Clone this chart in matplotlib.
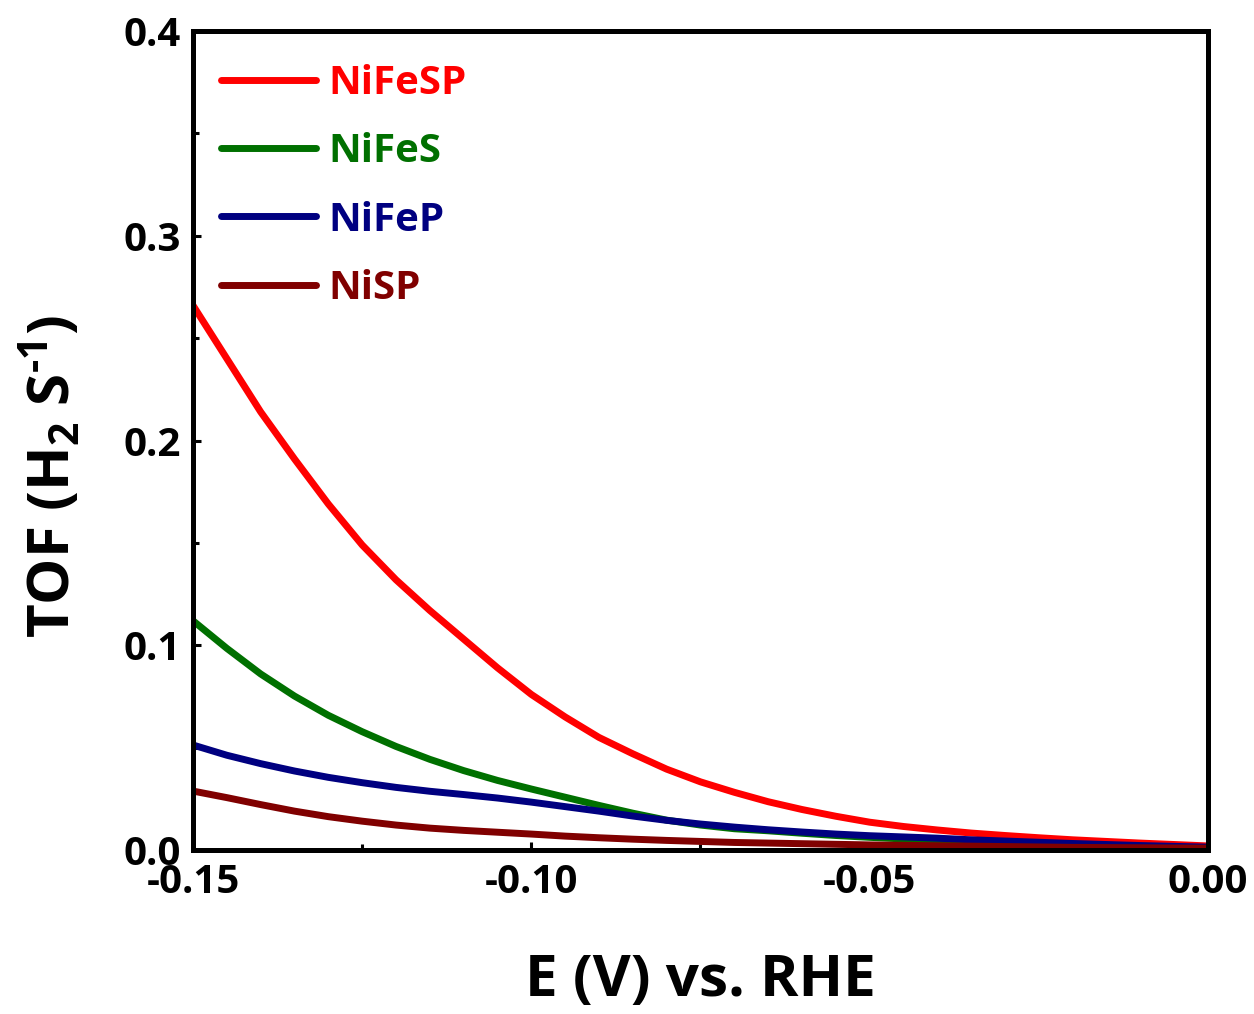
import matplotlib
matplotlib.use('Agg')
import matplotlib.pyplot as plt
from matplotlib.ticker import MultipleLocator, FormatStrFormatter

plt.rcParams['font.family'] = 'Open Sans'
plt.rcParams['font.weight'] = 'bold'
plt.rcParams['axes.labelweight'] = 'bold'
plt.rcParams['axes.unicode_minus'] = False
plt.rcParams['mathtext.fontset'] = 'custom'
plt.rcParams['mathtext.rm'] = 'Open Sans:bold'
plt.rcParams['mathtext.default'] = 'rm'

# potential (V vs. RHE)
E = [-0.150, -0.145, -0.140, -0.135, -0.130, -0.125, -0.120, -0.115, -0.110, -0.105,
     -0.100, -0.095, -0.090, -0.085, -0.080, -0.075, -0.070, -0.065, -0.060, -0.055,
     -0.050, -0.045, -0.040, -0.035, -0.030, -0.025, -0.020, -0.015, -0.010, -0.005, 0.000]

# turnover frequency, H2 per second
tof_nifesp = [0.266, 0.240, 0.214, 0.191, 0.169, 0.149, 0.132, 0.117, 0.103, 0.089,
              0.076, 0.065, 0.055, 0.047, 0.0395, 0.0333, 0.0282, 0.0236, 0.0198, 0.0165,
              0.0136, 0.0115, 0.0098, 0.0083, 0.0071, 0.006, 0.005, 0.0042, 0.0034, 0.0027, 0.002]
tof_nifes = [0.112, 0.0985, 0.086, 0.0752, 0.0658, 0.0578, 0.0506, 0.0443, 0.0388, 0.034,
             0.0298, 0.0258, 0.0218, 0.018, 0.0146, 0.0122, 0.0104, 0.0094, 0.0082, 0.0071,
             0.0062, 0.0054, 0.0047, 0.004, 0.0034, 0.0029, 0.0024, 0.002, 0.0016, 0.0013, 0.001]
tof_nifep = [0.0513, 0.0463, 0.0422, 0.0386, 0.0355, 0.0329, 0.0306, 0.0287, 0.0271, 0.0254,
             0.0234, 0.0212, 0.019, 0.0166, 0.0145, 0.0127, 0.0112, 0.0099, 0.0088, 0.0078,
             0.007, 0.0064, 0.0058, 0.005, 0.0044, 0.0038, 0.0032, 0.0027, 0.0022, 0.0018, 0.0014]
tof_nisp = [0.0288, 0.0256, 0.0222, 0.019, 0.0163, 0.0141, 0.0122, 0.0107, 0.0096, 0.0087,
            0.0078, 0.0068, 0.006, 0.0053, 0.0047, 0.0042, 0.0037, 0.0034, 0.0031, 0.0028,
            0.0025, 0.0023, 0.0021, 0.0019, 0.0017, 0.0015, 0.0013, 0.0012, 0.0011, 0.001, 0.0009]

series = [
    ('NiFeSP', tof_nifesp, '#FF0000'),
    ('NiFeS', tof_nifes, '#007000'),
    ('NiFeP', tof_nifep, '#000080'),
    ('NiSP', tof_nisp, '#800000'),
]

fig = plt.figure(figsize=(12.54, 10.14), dpi=100)
ax = fig.add_axes([0.1539, 0.1617, 0.8094, 0.8077])

for label, y, color in series:
    ax.plot(E, y, color=color, lw=5, label=label,
            solid_capstyle='round', solid_joinstyle='round')

ax.set_xlim(-0.15, 0.0)
ax.set_ylim(0.0, 0.4)
ax.xaxis.set_major_locator(MultipleLocator(0.05))
ax.xaxis.set_minor_locator(MultipleLocator(0.025))
ax.yaxis.set_major_locator(MultipleLocator(0.1))
ax.yaxis.set_minor_locator(MultipleLocator(0.05))
ax.xaxis.set_major_formatter(FormatStrFormatter('%.2f'))
ax.yaxis.set_major_formatter(FormatStrFormatter('%.1f'))

for s in ax.spines.values():
    s.set_linewidth(3.6)
ax.tick_params(which='both', direction='in', top=False, right=False, width=2.2)
ax.tick_params(which='major', length=6, labelsize=29, pad=9)
ax.tick_params(which='minor', length=4)

ax.set_xlabel('E (V) vs. RHE', fontsize=42)
ax.xaxis.set_label_coords(0.5, -0.124)
ax.set_ylabel(r'TOF (H$_2$ S$^{\text{-1}}$)', fontsize=42)
ax.yaxis.set_label_coords(-0.107, 0.456)

leg = ax.legend(loc='upper left', bbox_to_anchor=(0.028, 0.960), frameon=False,
                fontsize=29, handlelength=2.35, handletextpad=0.3,
                labelspacing=0.73, borderpad=0, borderaxespad=0,
                labelcolor='linecolor')

plt.savefig('out.png', dpi=100)
